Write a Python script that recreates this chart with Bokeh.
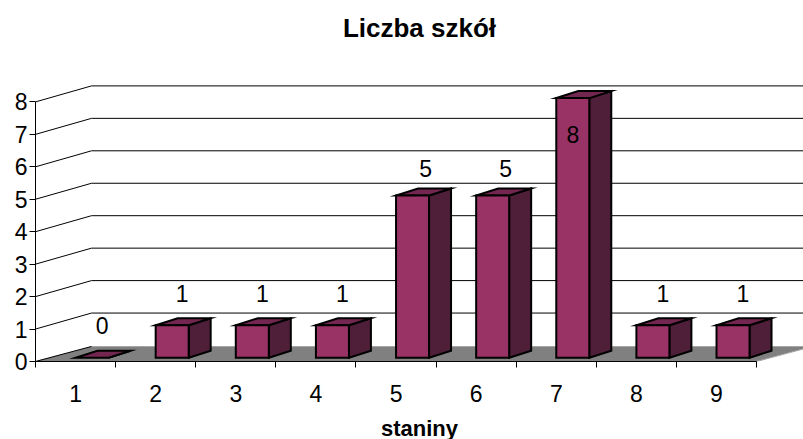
from bokeh.plotting import figure
from bokeh.models import ColumnDataSource, FixedTicker, Range1d, Title
from bokeh.core.properties import value
from bokeh.embed import file_html
from bokeh.resources import INLINE

categories = [1, 2, 3, 4, 5, 6, 7, 8, 9]
counts = [0, 1, 1, 1, 5, 5, 8, 1, 1]
y_ticks = [0, 1, 2, 3, 4, 5, 6, 7, 8]
title_text = "Liczba szkół"
x_title = "staniny"

FONT = "Liberation Sans"
W, H = 803, 439
LEFT, BOTTOM_PX, TOP_PX = 35, 361, 44
PX_X, PX_Y = 80.12, 32.45
xmax = 0.5 + (W - LEFT) / PX_X
ymax = (BOTTOM_PX - TOP_PX) / PX_Y

def dx(px): return px / PX_X
def dy(px): return px / PX_Y

p = figure(width=W, height=H, output_backend="svg", toolbar_location=None,
           frame_width=W - LEFT, frame_height=BOTTOM_PX - TOP_PX,
           x_range=Range1d(0.5, xmax), y_range=Range1d(0, ymax),
           min_border_left=LEFT, min_border_right=0, min_border_top=TOP_PX,
           min_border_bottom=H - BOTTOM_PX, outline_line_color=None,
           background_fill_color="white", border_fill_color="white")
p.margin = (0, 0, 0, 0)
p.grid.visible = False

# floor
x0, x1 = categories[0] - 0.5, categories[-1] + 0.5
p.patch([x0, x1, x1 + dx(56), x0 + dx(56)], [0, 0, dy(15), dy(15)],
        fill_color="#808080", line_color="#a6a6a6", line_width=1)

# wall lines
wx, wy = [], []
for v in y_ticks[1:]:
    wx.append([x0, x0 + dx(56), xmax])
    wy.append([v, v + dy(16), v + dy(16)])
p.multi_line(wx, wy, line_color="black", line_width=1)
p.line([x0, x1], [0, 0], line_color="black", line_width=1)
p.line([x0, x0 + dx(56)], [0, dy(15)], line_color="black", line_width=1)

# bars
front_x, front_y, side_x, side_y, top_x, top_y = [], [], [], [], [], []
HALF, SHIFT, BASE, DX, DY = dx(16.5), dx(16.5), dy(3.8), dx(22), dy(7)
for c, v in zip(categories, counts):
    l, r = c + SHIFT - HALF, c + SHIFT + HALF
    b, t = BASE, BASE + v
    front_x.append([l, r, r, l]); front_y.append([b, b, t, t])
    side_x.append([r, r + DX, r + DX, r]); side_y.append([b, b + DY, t + DY, t])
    top_x.append([l, r, r + DX, l + DX]); top_y.append([t, t, t + DY, t + DY])
kw = dict(line_color="black", line_width=2, line_join="miter")
p.patches(side_x, side_y, fill_color="#4f1f39", **kw)
p.patches(top_x, top_y, fill_color="#732650", **kw)
p.patches([f for f, v in zip(front_x, counts) if v > 0],
          [f for f, v in zip(front_y, counts) if v > 0], fill_color="#993366", **kw)

# data labels
lx, ly = [], []
for c, v in zip(categories, counts):
    if v == 8:
        lx.append(c + SHIFT); ly.append(BASE + v - dy(36))
    elif v == 5:
        lx.append(c + SHIFT + dx(13)); ly.append(BASE + v + dy(27))
    else:
        lx.append(c + SHIFT + dx(10)); ly.append(BASE + v + dy(32))
src = ColumnDataSource(dict(x=lx, y=ly, t=[str(v) for v in counts]))
p.text("x", "y", text="t", source=src, text_font=value(FONT), text_font_size="23px",
       text_color="black", text_align="center", text_baseline="middle")

# axes
p.yaxis.ticker = FixedTicker(ticks=y_ticks)
p.yaxis.bounds = (0, 8)
p.yaxis.major_tick_in = 0
p.yaxis.major_tick_out = 6
p.yaxis.major_tick_line_color = "black"
p.yaxis.minor_tick_line_color = None
p.yaxis.major_label_text_font = FONT
p.yaxis.major_label_text_font_size = "23px"
p.yaxis.major_label_standoff = 2
p.yaxis.major_label_text_color = "black"
p.yaxis.axis_line_color = "black"

edges = [c - 0.5 for c in categories] + [categories[-1] + 0.5]
p.xaxis.ticker = FixedTicker(ticks=categories, minor_ticks=edges)
p.xaxis.bounds = (x0, x1)
p.xaxis.major_tick_in = 0
p.xaxis.major_tick_out = 0
p.xaxis.minor_tick_in = 0
p.xaxis.minor_tick_out = 6
p.xaxis.minor_tick_line_color = "black"
p.xaxis.minor_tick_line_width = 1
p.xaxis.major_label_text_font = FONT
p.xaxis.major_label_text_font_size = "23px"
p.xaxis.major_label_standoff = 17
p.xaxis.major_label_text_color = "black"
p.xaxis.axis_line_color = "black"

p.add_layout(Title(text=x_title, align="center", offset=5, text_font=FONT, text_font_size="22px",
                   text_font_style="bold", text_color="black", standoff=18), "below")

p.title = Title(text=title_text, align="center", offset=5, text_font=FONT, text_font_size="26px",
                text_font_style="bold", text_color="black", standoff=3)

open("out.html", "w").write(file_html(p, INLINE))
